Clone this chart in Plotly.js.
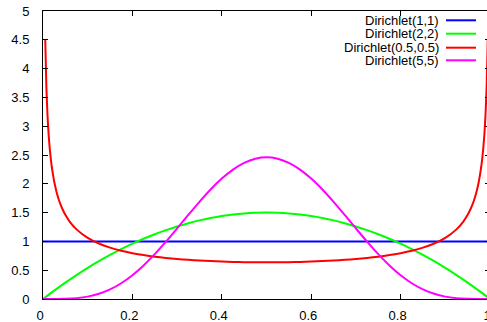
<!DOCTYPE html>
<html>
<head>
<meta charset="utf-8">
<script src="https://cdn.plot.ly/plotly-3.0.1.min.js"></script>
<style>
html,body{margin:0;padding:0;overflow:hidden;background:#fff;}
#chart{width:490px;height:322px;}
</style>
</head>
<body>
<div id="chart"></div>
<script>
// Series names
var seriesNames = ["Dirichlet(1,1)", "Dirichlet(2,2)", "Dirichlet(0.5,0.5)", "Dirichlet(5,5)"];

// Dirichlet(1,1)
var x11 = [0, 1];
var y11 = [1, 1];

// Shared grid for the symmetric curves (left half; right half mirrored)
var xHalf = [0, 0.025, 0.05, 0.075, 0.1, 0.125, 0.15, 0.175, 0.2, 0.225, 0.25, 0.275, 0.3, 0.325, 0.35, 0.375, 0.4, 0.425, 0.45, 0.475, 0.5];

// Dirichlet(2,2) read on xHalf
var y22Half = [0, 0.146, 0.285, 0.416, 0.54, 0.656, 0.765, 0.866, 0.96, 1.046, 1.125, 1.196, 1.26, 1.316, 1.365, 1.406, 1.44, 1.466, 1.485, 1.496, 1.5];

// Dirichlet(5,5) read on xHalf
var y55Half = [0, 0.0002, 0.0032, 0.0146, 0.0413, 0.0902, 0.1665, 0.2737, 0.4129, 0.5825, 0.7787, 0.9955, 1.2252, 1.4591, 1.6876, 1.901, 2.0902, 2.2468, 2.364, 2.4364, 2.4609];

// Dirichlet(0.5,0.5) read on its own grid (left half)
var xRedHalf = [0.005, 0.0075, 0.01, 0.0125, 0.015, 0.0175, 0.02, 0.025, 0.03, 0.035, 0.04, 0.045, 0.05, 0.06, 0.075, 0.1, 0.125, 0.15, 0.175, 0.2, 0.225, 0.25, 0.275, 0.3, 0.325, 0.35, 0.375, 0.4, 0.425, 0.45, 0.475, 0.5];
var yRedHalf = [4.513, 3.689, 3.199, 2.865, 2.619, 2.428, 2.274, 2.039, 1.866, 1.732, 1.624, 1.536, 1.461, 1.340, 1.209, 1.061, 0.963, 0.892, 0.838, 0.796, 0.762, 0.735, 0.713, 0.695, 0.68, 0.667, 0.658, 0.65, 0.644, 0.64, 0.637, 0.637];

function mirror(xs, ys) {
  var X = xs.slice(), Y = ys.slice();
  for (var i = xs.length - 2; i >= 0; i--) {
    X.push(1 - xs[i]);
    Y.push(ys[i]);
  }
  return {x: X, y: Y};
}

var s22 = mirror(xHalf, y22Half);
var s55 = mirror(xHalf, y55Half);
var sRed = mirror(xRedHalf, yRedHalf);

var colors = ["#0000ff", "#00ff00", "#ff0000", "#ff00ff"];

var traces = [
  {x: x11, y: y11, name: seriesNames[0], mode: "lines", line: {color: colors[0], width: 2}},
  {x: s22.x, y: s22.y, name: seriesNames[1], mode: "lines", line: {color: colors[1], width: 2, shape: "spline", smoothing: 0.8}},
  {x: sRed.x, y: sRed.y, name: seriesNames[2], mode: "lines", line: {color: colors[2], width: 2, shape: "spline", smoothing: 0.3}},
  {x: s55.x, y: s55.y, name: seriesNames[3], mode: "lines", line: {color: colors[3], width: 2, shape: "spline", smoothing: 0.8}}
];

// gnuplot-style key: text right-aligned, sample line on the right
var keyY = [0.9677, 0.9212, 0.8726, 0.8288];
var annotations = [], shapes = [];
for (var i = 0; i < seriesNames.length; i++) {
  annotations.push({
    xref: "paper", yref: "paper", x: 0.888, y: keyY[i],
    xanchor: "right", yanchor: "middle", showarrow: false,
    text: seriesNames[i], borderpad: 0,
    font: {family: "Liberation Sans, Arial, sans-serif", size: 13, color: "#000"}
  });
  shapes.push({
    type: "line", xref: "paper", yref: "paper",
    x0: 0.9016, x1: 0.9687, y0: keyY[i], y1: keyY[i],
    line: {color: colors[i], width: 2}
  });
}

var axisCommon = {
  showgrid: false, zeroline: false, showline: true, linecolor: "#000", linewidth: 1,
  mirror: "ticks", ticks: "inside", ticklen: 5, tickcolor: "#000", tickwidth: 1,
  ticklabeloverflow: "allow",
  tickfont: {family: "Liberation Sans, Arial, sans-serif", size: 13, color: "#000"}
};

var layout = {
  width: 490, height: 322,
  margin: {l: 43, r: 0, t: 11, b: 23, pad: 0},
  paper_bgcolor: "#fff", plot_bgcolor: "#fff",
  showlegend: false,
  xaxis: Object.assign({}, axisCommon, {range: [0, 1], tickvals: [0, 0.2, 0.4, 0.6, 0.8, 1], ticktext: ["0", "0.2", "0.4", "0.6", "0.8", "1"], ticklabelstandoff: 4, ticklabelshift: -3}),
  yaxis: Object.assign({}, axisCommon, {range: [0, 5], tickvals: [0, 0.5, 1, 1.5, 2, 2.5, 3, 3.5, 4, 4.5, 5], ticktext: ["0", "0.5", "1", "1.5", "2", "2.5", "3", "3.5", "4", "4.5", "5"], ticklabelstandoff: 10}),
  annotations: annotations,
  shapes: shapes
};

Plotly.newPlot("chart", traces, layout, {staticPlot: true, displayModeBar: false});
</script>
</body>
</html>
